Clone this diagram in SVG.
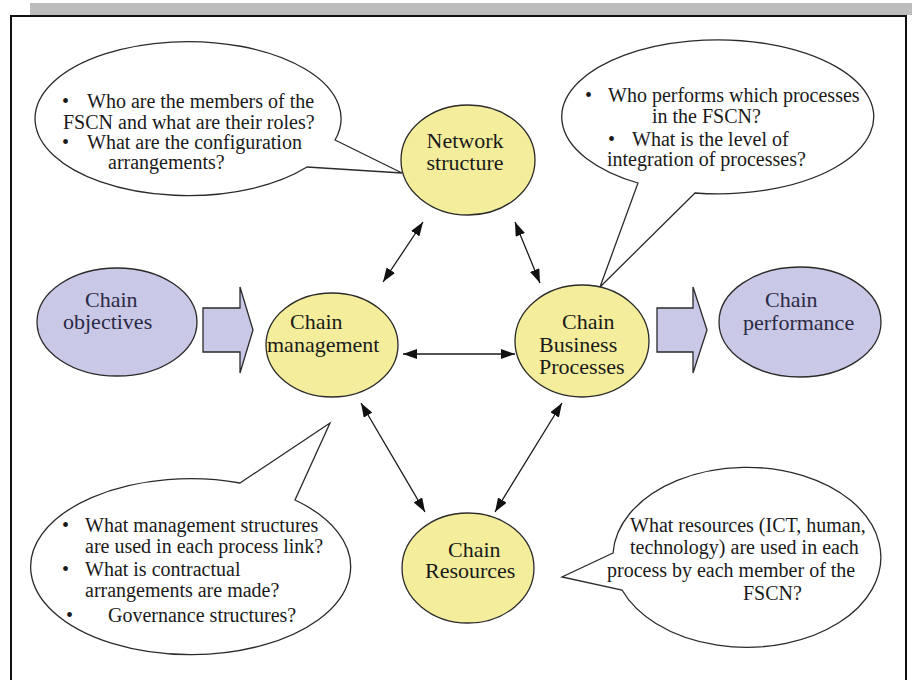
<svg xmlns="http://www.w3.org/2000/svg" width="912" height="680" viewBox="0 0 912 680">
  <defs>
    <style>
      .q { font-family: "Liberation Serif", "Times New Roman", serif; font-size: 20px; fill: #1a1a1a; }
      .lbl { font-family: "Liberation Serif", "Times New Roman", serif; font-size: 22px; fill: #1a1a1a; }
      .lbl2 { font-family: "Liberation Serif", "Times New Roman", serif; font-size: 22px; fill: #2a2a44; }
      .bubble { fill: #ffffff; stroke: #2a2a2a; stroke-width: 1.3; stroke-linejoin: miter; }
      .core { fill: #f4ee9c; stroke: #2a2a2a; stroke-width: 1.3; }
      .ends { fill: #c9c8e6; stroke: #2a2a2a; stroke-width: 1.3; }
      .link { stroke: #1a1a1a; stroke-width: 1.3; fill: none; marker-start: url(#head); marker-end: url(#head); }
    </style>
    <marker id="head" viewBox="0 0 14 10" refX="14" refY="5" markerWidth="14" markerHeight="10" markerUnits="userSpaceOnUse" orient="auto-start-reverse">
      <path d="M0,0 L14,5 L0,10 Z" fill="#111111"/>
    </marker>
  </defs>

  <!-- page furniture -->
  <rect x="30" y="3" width="882" height="12" fill="#bdbdbd"/>
  <rect x="11" y="16" width="895" height="700" fill="#ffffff" stroke="#111111" stroke-width="2"/>

  <!-- question bubbles -->
  <g id="bubble-network">
    <path class="bubble" d="M335,140 L402,173 L307,167 A153 77 0 1 1 335,140 Z"/>
    <text class="q" x="62" y="108">•</text>
    <text class="q" x="87" y="108">Who are the members of the</text>
    <text class="q" x="63" y="129">FSCN and what are their roles?</text>
    <text class="q" x="62" y="149">•</text>
    <text class="q" x="87" y="149">What are the configuration</text>
    <text class="q" x="108" y="169">arrangements?</text>
  </g>

  <g id="bubble-processes">
    <path class="bubble" d="M695,193 L600,287 L638,183 A156 77 0 1 1 695,193 Z"/>
    <text class="q" x="585" y="102">•</text>
    <text class="q" x="608" y="102">Who performs which processes</text>
    <text class="q" x="652" y="123">in the FSCN?</text>
    <text class="q" x="608" y="146">•</text>
    <text class="q" x="632" y="146">What is the level of</text>
    <text class="q" x="607" y="166">integration of processes?</text>
  </g>

  <g id="bubble-management">
    <path class="bubble" d="M240,483 L330,423 L295,500 A160 88 0 1 1 240,483 Z"/>
    <text class="q" x="62" y="532">•</text>
    <text class="q" x="85" y="532">What management structures</text>
    <text class="q" x="85" y="553">are used in each process link?</text>
    <text class="q" x="62" y="576">•</text>
    <text class="q" x="85" y="576">What is contractual</text>
    <text class="q" x="85" y="597">arrangements are made?</text>
    <text class="q" x="66" y="622">•</text>
    <text class="q" x="108" y="622">Governance structures?</text>
  </g>

  <g id="bubble-resources">
    <path class="bubble" d="M613,553 L562,577 L622,590 A134 90 0 1 0 613,553 Z"/>
    <text class="q" x="630" y="532">What resources (ICT, human,</text>
    <text class="q" x="630" y="554">technology) are used in each</text>
    <text class="q" x="607" y="577">process by each member of the</text>
    <text class="q" x="743" y="600">FSCN?</text>
  </g>

  <!-- double-headed links between the core elements -->
  <g id="connectors">
    <line class="link" x1="383" y1="282" x2="423" y2="222"/>
    <line class="link" x1="515" y1="222" x2="540" y2="283"/>
    <line class="link" x1="403" y1="354" x2="515" y2="354"/>
    <line class="link" x1="361" y1="403" x2="425" y2="512"/>
    <line class="link" x1="562" y1="403" x2="495" y2="512"/>
  </g>

  <!-- block arrows: objectives in, performance out -->
  <g id="flow-in">
    <path class="ends" d="M203,308 L240,308 L240,287 L253,330 L240,373 L240,352 L203,352 Z"/>
  </g>
  <g id="flow-out">
    <path class="ends" d="M657,308 L693,308 L693,287 L707,330 L693,373 L693,352 L657,352 Z"/>
  </g>

  <!-- nodes -->
  <g id="chain-objectives">
    <ellipse class="ends" cx="117" cy="322" rx="80" ry="54"/>
    <text class="lbl2" x="85" y="307">Chain</text>
    <text class="lbl2" x="63" y="329">objectives</text>
  </g>

  <g id="network-structure">
    <ellipse class="core" cx="468" cy="160" rx="67" ry="55"/>
    <text class="lbl" x="465" y="148" text-anchor="middle">Network</text>
    <text class="lbl" x="465" y="170" text-anchor="middle">structure</text>
  </g>

  <g id="chain-management">
    <ellipse class="core" cx="332" cy="345" rx="66" ry="52"/>
    <text class="lbl" x="290" y="329">Chain</text>
    <text class="lbl" x="267" y="352">management</text>
  </g>

  <g id="chain-business-processes">
    <ellipse class="core" cx="582" cy="341" rx="67" ry="56"/>
    <text class="lbl" x="562" y="329">Chain</text>
    <text class="lbl" x="539" y="352">Business</text>
    <text class="lbl" x="539" y="374">Processes</text>
  </g>

  <g id="chain-resources">
    <ellipse class="core" cx="468" cy="568" rx="66" ry="55"/>
    <text class="lbl" x="448" y="557">Chain</text>
    <text class="lbl" x="425" y="578">Resources</text>
  </g>

  <g id="chain-performance">
    <ellipse class="ends" cx="800" cy="322" rx="81" ry="55"/>
    <text class="lbl2" x="765" y="307">Chain</text>
    <text class="lbl2" x="743" y="330">performance</text>
  </g>
</svg>
